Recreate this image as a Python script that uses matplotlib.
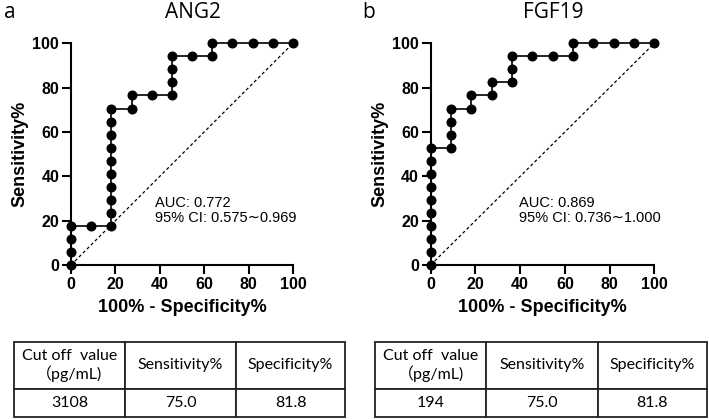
import matplotlib
matplotlib.use("Agg")
import matplotlib.pyplot as plt

# ---------------- data ----------------
ang2_fpr = [0, 0, 0, 0, 9.09, 18.18, 18.18, 18.18, 18.18, 18.18, 18.18, 18.18, 18.18, 18.18, 18.18,
            27.27, 27.27, 36.36, 45.45, 45.45, 45.45, 45.45, 54.55, 63.64, 63.64, 72.73, 81.82, 90.91, 100]
ang2_tpr = [0, 5.88, 11.76, 17.65, 17.65, 17.65, 23.53, 29.41, 35.29, 41.18, 47.06, 52.94, 58.82, 64.71, 70.59,
            70.59, 76.47, 76.47, 76.47, 82.35, 88.24, 94.12, 94.12, 94.12, 100, 100, 100, 100, 100]

fgf19_fpr = [0, 0, 0, 0, 0, 0, 0, 0, 0, 0, 9.09, 9.09, 9.09, 9.09, 18.18, 18.18, 27.27, 27.27,
             36.36, 36.36, 36.36, 45.45, 54.55, 63.64, 63.64, 72.73, 81.82, 90.91, 100]
fgf19_tpr = [0, 5.88, 11.76, 17.65, 23.53, 29.41, 35.29, 41.18, 47.06, 52.94, 52.94, 58.82, 64.71, 70.59,
             70.59, 76.47, 76.47, 82.35, 82.35, 88.24, 94.12, 94.12, 94.12, 94.12, 100, 100, 100, 100, 100]

titles = ["ANG2", "FGF19"]
panel_letters = ["a", "b"]
auc_text = ["AUC: 0.772", "AUC: 0.869"]
ci_text = ["95% CI: 0.575\u223c0.969", "95% CI: 0.736\u223c1.000"]
ticks = [0, 20, 40, 60, 80, 100]

table_header = ["Cut off  value\n\uff08pg/mL)", "Sensitivity%", "Specificity%"]
table_rows = [["3108", "75.0", "81.8"], ["194", "75.0", "81.8"]]

# ---------------- figure ----------------
W, H = 709, 419
fig = plt.figure(figsize=(W / 100, H / 100), dpi=100)

def fx(px):
    return px / W

def fy(py):
    return 1 - py / H

axes_px = [(71, 293), (430.7, 654.3)]
ytop, ybot = 43.3, 265.0
series = [(ang2_fpr, ang2_tpr), (fgf19_fpr, fgf19_tpr)]
text_x = [38, 39.5]
AX_FONT = ["Liberation Sans", "DejaVu Sans"]

for i, ((x0, x1), (fpr, tpr)) in enumerate(zip(axes_px, series)):
    ax = fig.add_axes([fx(x0), fy(ybot), (x1 - x0) / W, (ybot - ytop) / H])
    ax.set_xlim(0, 100)
    ax.set_ylim(0, 100)
    ax.plot([0, 100], [0, 100], color="black", lw=0.9, ls=(0, (2.5, 2)), clip_on=False)
    ax.plot(fpr, tpr, color="black", lw=1.2, marker="o", ms=6.2, clip_on=False, zorder=5)
    for s in ["top", "right"]:
        ax.spines[s].set_visible(False)
    for s in ["left", "bottom"]:
        ax.spines[s].set_linewidth(1.5)
    ax.set_xticks(ticks)
    ax.set_yticks(ticks)
    ax.tick_params(length=6.5, width=1.5, labelsize=11.5, pad=2)
    for lab in ax.get_xticklabels() + ax.get_yticklabels():
        lab.set_fontweight("bold")
        lab.set_family(AX_FONT)
    ax.set_xlabel("100% - Specificity%", fontsize=13, fontweight="bold", family=AX_FONT, labelpad=5)
    ax.set_ylabel("Sensitivity%", fontsize=13, fontweight="bold", family=AX_FONT, labelpad=3)
    ax.text(text_x[i], 26, auc_text[i], fontsize=10.5, family=AX_FONT, va="baseline")
    ax.text(text_x[i], 19.5, ci_text[i], fontsize=10.5, family=AX_FONT, va="baseline")
    ax.set_facecolor("none")
    # title & panel letter
    fig.text(fx((x0 + x1) / 2 + 11), fy(12), titles[i], fontsize=15, family=["Open Sans", "DejaVu Sans"],
             ha="center", va="center")
    fig.text(fx([10, 369][i]), fy(12), panel_letters[i], fontsize=15, family=["Open Sans", "DejaVu Sans"],
             ha="center", va="center")

# ---------------- tables ----------------
tables_px = [(14, 345), (375, 707)]
t_top, t_mid, t_bot = 341.7, 389.0, 416.7
TB_FONT = ["Lato", "Noto Sans CJK JP", "DejaVu Sans"]
for i, (x0, x1) in enumerate(tables_px):
    tax = fig.add_axes([fx(x0), fy(t_bot), (x1 - x0) / W, (t_bot - t_top) / H])
    tax.axis("off")
    cw = [111 / 331, 111 / 331, 109 / 331]
    tbl = tax.table(cellText=[table_header, table_rows[i]], cellLoc="center",
                    colWidths=cw, bbox=[0, 0, 1, 1])
    tbl.auto_set_font_size(False)
    hfrac = (t_mid - t_top) / (t_bot - t_top)
    for (r, c), cell in tbl.get_celld().items():
        cell.set_linewidth(1.3)
        cell.set_edgecolor("#222222")
        cell.set_height(hfrac if r == 0 else 1 - hfrac)
        cell.get_text().set_fontsize(11.5)
        cell.get_text().set_family(TB_FONT)
        if r == 0 and c == 0:
            cell.get_text().set_linespacing(1.15)

fig.savefig("out.png", dpi=100)
